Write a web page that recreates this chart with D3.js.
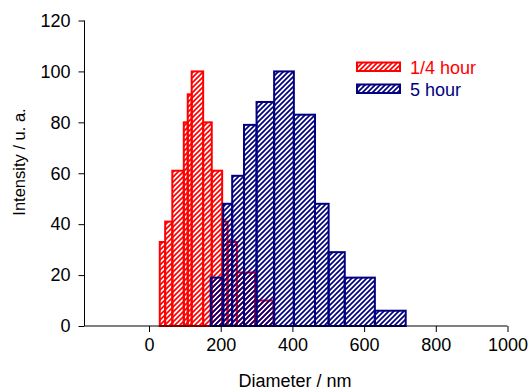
<!DOCTYPE html>
<html>
<head>
<meta charset="utf-8">
<script src="https://cdn.jsdelivr.net/npm/d3@7"></script>
<style>
  body { margin: 0; background: #fff; }
  svg { display: block; font-family: "Liberation Sans", Arial, sans-serif; }
</style>
</head>
<body>
<div id="chart"></div>
<script>
// size bins (nm) and intensities
const quarterEdges = [30, 45, 65, 97, 108, 119, 151, 175, 204, 219, 245, 296, 347];
const quarterValues = [33, 41, 61, 80, 91, 100, 80, 61, 41, 33, 21, 10];

const fiveEdges = [172, 207, 232, 265, 300, 349, 404, 463, 501, 546, 630, 716];
const fiveValues = [19, 48, 59, 79, 88, 100, 83, 48, 29, 19, 6];

const seriesNames = ["1/4 hour", "5 hour"];
const seriesColors = ["#ff0000", "#000080"];

const xTicks = [0, 200, 400, 600, 800, 1000];
const yTicks = [0, 20, 40, 60, 80, 100, 120];

const w = 531, h = 392;
const padLeft = 84.5, padRight = 507.5, padTop = 20.5, padBottom = 326;

const svg = d3.select("#chart").append("svg")
  .attr("width", w)
  .attr("height", h);

const x = d3.scaleLinear().domain([-180, 1000]).range([padLeft, padRight]);
const y = d3.scaleLinear().domain([0, 120]).range([padBottom, padTop]);

// hatch patterns, transparent so overlapping bars show through
const defs = svg.append("defs");
seriesColors.forEach((c, i) => {
  const p = defs.append("pattern")
    .attr("id", "hatch" + i)
    .attr("patternUnits", "userSpaceOnUse")
    .attr("width", 5)
    .attr("height", 5);
  p.append("path")
    .attr("d", "M-1,1 l2,-2 M0,5 l5,-5 M4,6 l2,-2")
    .attr("stroke", c)
    .attr("stroke-width", 1.7);
});

const toBars = (edges, values) => values.map((v, i) => ({ x0: edges[i], x1: edges[i + 1], v: v }));

const series = [toBars(quarterEdges, quarterValues), toBars(fiveEdges, fiveValues)];

series.forEach((bars, i) => {
  svg.append("g")
    .selectAll("rect")
    .data(bars)
    .enter()
    .append("rect")
    .attr("x", d => x(d.x0))
    .attr("y", d => y(d.v))
    .attr("width", d => x(d.x1) - x(d.x0))
    .attr("height", d => y(0) - y(d.v))
    .attr("fill", "url(#hatch" + i + ")")
    .attr("stroke", seriesColors[i])
    .attr("stroke-width", 2);
});

// axes
const xAxis = d3.axisBottom(x)
  .tickValues(xTicks)
  .tickFormat(d3.format("d"))
  .tickSizeInner(6)
  .tickSizeOuter(0)
  .tickPadding(6);

const gx = svg.append("g")
  .attr("transform", "translate(0," + padBottom + ")")
  .call(xAxis);

const yAxis = d3.axisLeft(y)
  .tickValues(yTicks)
  .tickSizeInner(6)
  .tickSizeOuter(0)
  .tickPadding(8);

const gy = svg.append("g")
  .attr("transform", "translate(" + padLeft + ",0)")
  .call(yAxis);

[gx, gy].forEach(g => {
  g.selectAll("text")
    .attr("font-size", 18)
    .attr("font-family", "Liberation Sans, Arial, sans-serif")
    .attr("fill", "#000");
  g.selectAll("line, path").attr("stroke", "#000");
});
gx.select(".domain").attr("d", "M" + padLeft + ",0H" + padRight);
gy.select(".domain").attr("d", "M0," + padTop + "V" + padBottom);

svg.append("text")
  .text("Diameter / nm")
  .attr("x", 295)
  .attr("y", 387)
  .attr("text-anchor", "middle")
  .attr("font-size", 18)
  .attr("fill", "#000");

svg.append("text")
  .text("Intensity / u. a.")
  .attr("transform", "translate(25,162) rotate(-90)")
  .attr("text-anchor", "middle")
  .attr("font-size", 16.5)
  .attr("fill", "#000");

// legend
const legend = svg.append("g");
seriesNames.forEach((name, i) => {
  const ly = 62.5 + i * 22;
  legend.append("rect")
    .attr("x", 357)
    .attr("y", ly)
    .attr("width", 43)
    .attr("height", 8.5)
    .attr("fill", "url(#hatch" + i + ")")
    .attr("stroke", seriesColors[i])
    .attr("stroke-width", 2);
  legend.append("text")
    .text(name)
    .attr("x", 410)
    .attr("y", ly + 11)
    .attr("font-size", 18)
    .attr("fill", seriesColors[i]);
});
</script>
</body>
</html>
